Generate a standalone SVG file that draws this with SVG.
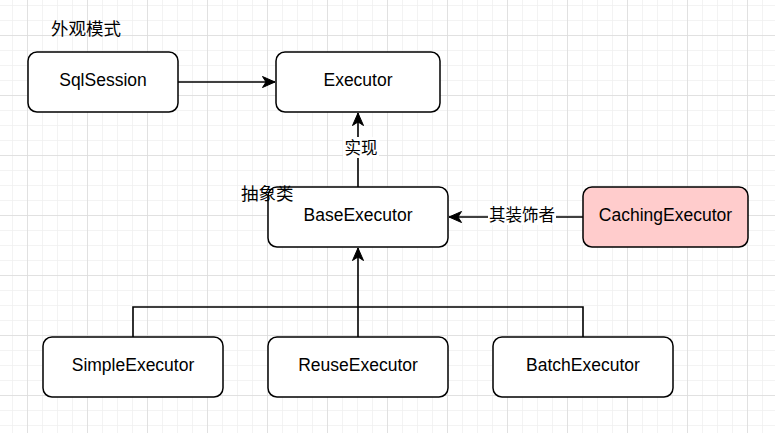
<svg xmlns="http://www.w3.org/2000/svg" width="775" height="433" viewBox="0 0 775 433">
<defs>
<pattern id="minor" x="12" y="5" width="15" height="15" patternUnits="userSpaceOnUse">
<path d="M0,0 H15 M0,0 V15" fill="none" stroke="#efefef" stroke-width="1.5"/>
</pattern>
<pattern id="major" x="27" y="35" width="60" height="60" patternUnits="userSpaceOnUse">
<path d="M0,0 H60 M0,0 V60" fill="none" stroke="#dcdcdc" stroke-width="1.5"/>
</pattern>
<marker id="arr" markerUnits="userSpaceOnUse" markerWidth="16" markerHeight="14" refX="14" refY="7" orient="auto">
<path d="M14,7 L1.5,1.5 L5,7 L1.5,12.5 Z" fill="#000" stroke="#000" stroke-width="1"/>
</marker>
</defs>
<style>
.node rect{stroke:#000;stroke-width:1.5;}
.t{font-family:"Liberation Sans","Noto Sans CJK SC",Arial,sans-serif;font-size:17.5px;fill:#000;text-anchor:middle;dominant-baseline:central;}
.lbl{font-family:"Noto Sans CJK SC","Liberation Sans",sans-serif;font-size:16.5px;fill:#000;text-anchor:middle;dominant-baseline:central;}
.cn{font-family:"Noto Sans CJK SC","Liberation Sans",sans-serif;font-size:17.5px;fill:#000;}
.e{fill:none;stroke:#000;stroke-width:1.6;}
</style>
<rect width="775" height="433" fill="#fff"/>
<rect width="775" height="433" fill="url(#minor)"/>
<rect width="775" height="433" fill="url(#major)"/>

<g id="connectors">
<path class="e" d="M178,82 H275" marker-end="url(#arr)"/>
<path class="e" d="M358,187 V113" marker-end="url(#arr)"/>
<path class="e" d="M583,217 H449" marker-end="url(#arr)"/>
<path class="e" d="M358,337 V248" marker-end="url(#arr)"/>
<path class="e" d="M133,337 V307 H583 V337"/>
<rect x="343" y="137" width="36" height="21" fill="#fff"/>
<text class="lbl" x="361" y="146.5">实现</text>
<rect x="488" y="206" width="68" height="19" fill="#fff"/>
<text class="lbl" x="522" y="214">其装饰者</text>
</g>

<g id="label-facade"><text class="cn" x="51" y="35">外观模式</text></g>

<g id="SqlSession" class="node"><rect x="28" y="52" width="150" height="60" rx="9" fill="#fff"/><text class="t" x="103" y="80">SqlSession</text></g>
<g id="Executor" class="node"><rect x="276" y="52" width="164" height="60" rx="9" fill="#fff"/><text class="t" x="358" y="80">Executor</text></g>
<g id="BaseExecutor" class="node"><rect x="268" y="187" width="180" height="60" rx="9" fill="#fff"/><text class="t" x="358" y="215">BaseExecutor</text></g>
<g id="label-abstract"><text class="cn" x="241" y="200">抽象类</text></g>
<g id="CachingExecutor" class="node"><rect x="583" y="187" width="165" height="60" rx="9" fill="#ffcccc"/><text class="t" x="665.5" y="215">CachingExecutor</text></g>
<g id="SimpleExecutor" class="node"><rect x="43" y="337" width="180" height="60" rx="9" fill="#fff"/><text class="t" x="133" y="365">SimpleExecutor</text></g>
<g id="ReuseExecutor" class="node"><rect x="268" y="337" width="180" height="60" rx="9" fill="#fff"/><text class="t" x="358" y="365">ReuseExecutor</text></g>
<g id="BatchExecutor" class="node"><rect x="493" y="337" width="180" height="60" rx="9" fill="#fff"/><text class="t" x="583" y="365">BatchExecutor</text></g>
</svg>
